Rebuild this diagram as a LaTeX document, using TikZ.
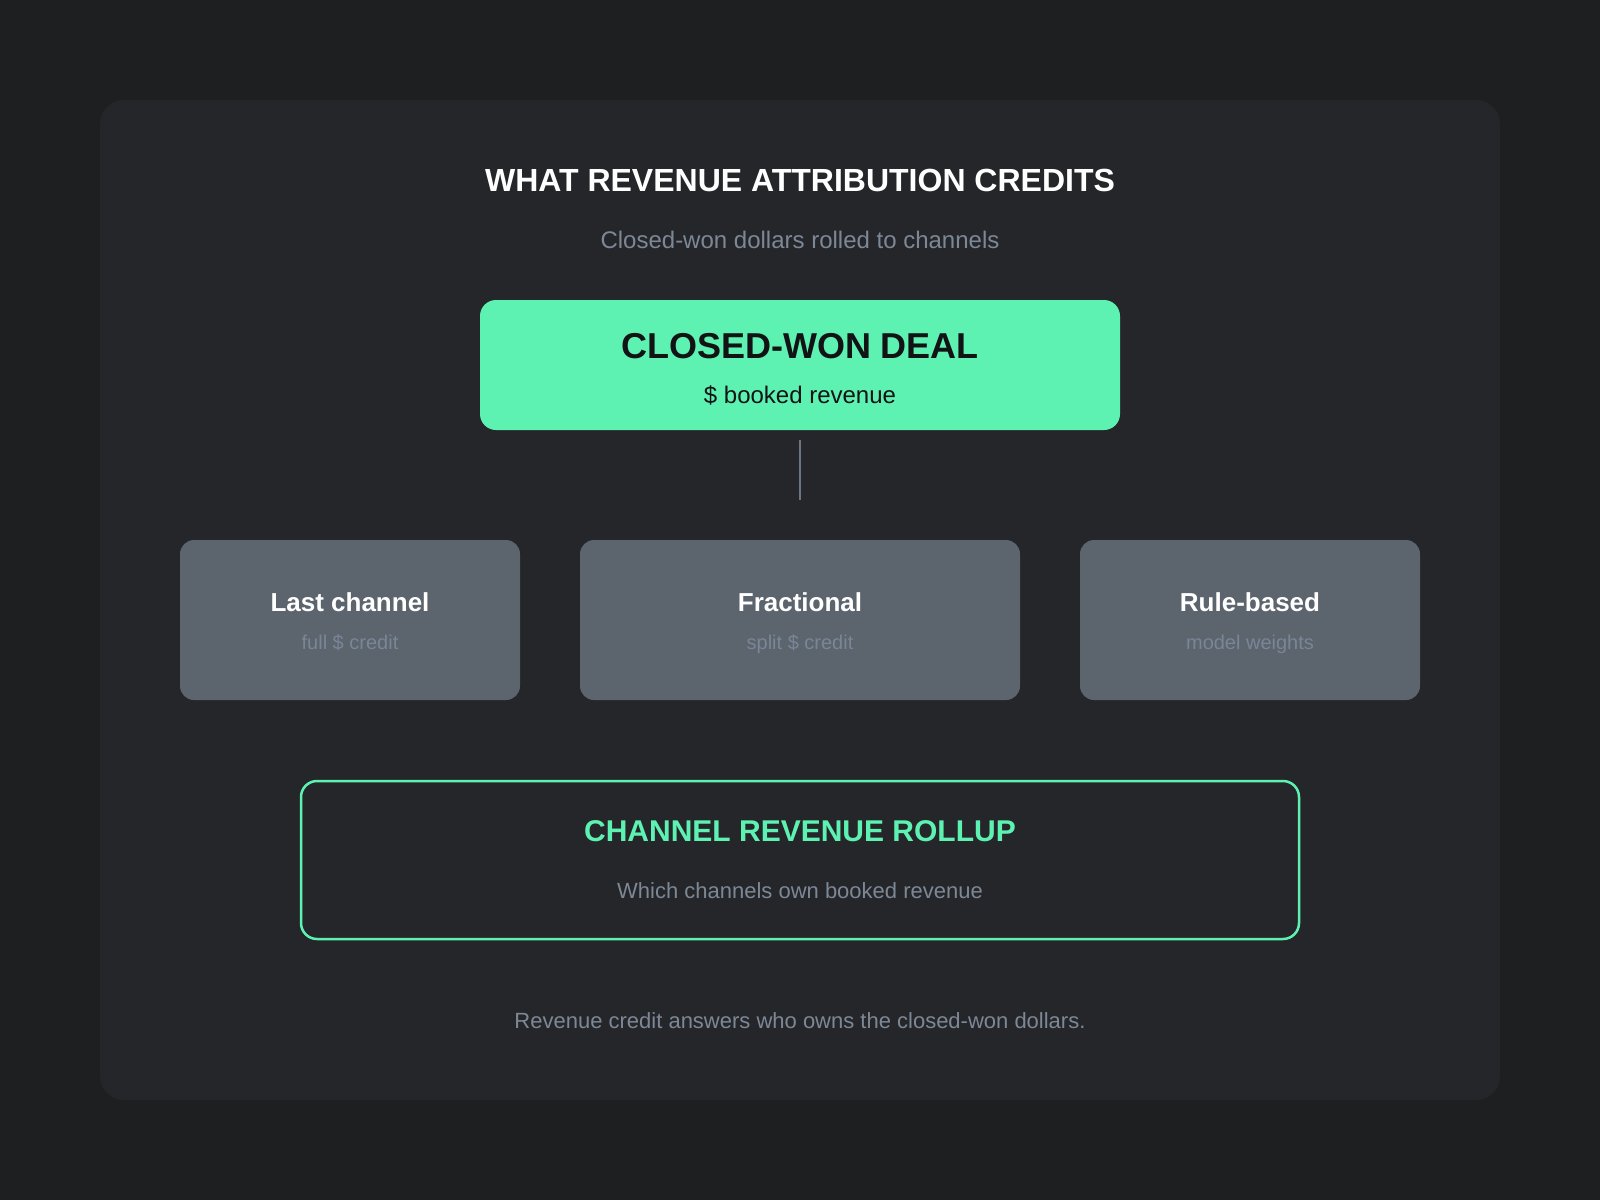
\documentclass[tikz,border=0pt]{standalone}
\usepackage{fontspec}
\setmainfont{Liberation Sans}

\definecolor{pagebg}{HTML}{1E1F21}
\definecolor{panelbg}{HTML}{25262A}
\definecolor{dealgreen}{HTML}{5EF2B2}
\definecolor{cardgray}{HTML}{5C646E}
\definecolor{mutedtext}{HTML}{7D8896}
\definecolor{cardtext}{HTML}{788698}
\definecolor{linkgray}{HTML}{6B7685}
\definecolor{darktext}{HTML}{111315}

\newcommand{\fsize}[1]{\fontsize{#1}{#1}\selectfont}

\begin{document}
\begin{tikzpicture}[x=1pt, y=-1pt,
    card/.style={fill=cardgray, rounded corners=14pt, inner sep=0pt, minimum height=160pt},
    deal/.style={fill=dealgreen, rounded corners=16pt, inner sep=0pt, minimum width=640pt, minimum height=130pt},
    rollup/.style={draw=dealgreen, line width=2.5pt, fill=panelbg, rounded corners=16pt, inner sep=0pt, minimum width=998pt, minimum height=158pt},
    label/.style={anchor=base, inner sep=0pt},
    link/.style={draw=linkgray, line width=2.5pt}]

% Draw the background
\fill[pagebg] (0,0) rectangle (1600,1200);
\fill[panelbg, rounded corners=24pt] (100,100) rectangle (1500,1100);

% Draw the heading
\node[label, text=white, font=\fsize{32}\bfseries] (title) at (800,191) {WHAT REVENUE ATTRIBUTION CREDITS};
\node[label, text=mutedtext, font=\fsize{24}] (subtitle) at (800,248) {Closed-won dollars rolled to channels};

% Draw the deal
\node[deal] (deal) at (800,365) {};
\node[label, text=darktext, font=\fsize{36}\bfseries] (dealtitle) at (800,358) {CLOSED-WON DEAL};
\node[label, text=darktext, font=\fsize{24}] (dealsub) at (800,403) {\$ booked revenue};

\coordinate (split) at (800,500);
\draw[link] ([yshift=-10pt]deal.south) -- (split);

% Draw the credit models
\foreach \name/\x/\w/\head/\note in {last/350/340/Last channel/full \$ credit,
                                      frac/800/440/Fractional/split \$ credit,
                                      rule/1250/340/Rule-based/model weights} {
    \node[card, minimum width=\w pt] (\name) at (\x,620) {};
    \node[label, text=white, font=\fsize{26}\bfseries] (\name title) at (\x,611) {\head};
    \node[label, text=cardtext, font=\fsize{20}] (\name note) at (\x,649) {\note};
}

% Draw the rollup
\node[rollup] (roll) at (800,860) {};
\node[label, text=dealgreen, font=\fsize{30}\bfseries] (rolltitle) at (800,841) {CHANNEL REVENUE ROLLUP};
\node[label, text=mutedtext, font=\fsize{22}] (rollsub) at (800,898) {Which channels own booked revenue};

% Draw the footer
\node[label, text=mutedtext, font=\fsize{22}] (footer) at (800,1028) {Revenue credit answers who owns the closed-won dollars.};

\end{tikzpicture}
\end{document}
